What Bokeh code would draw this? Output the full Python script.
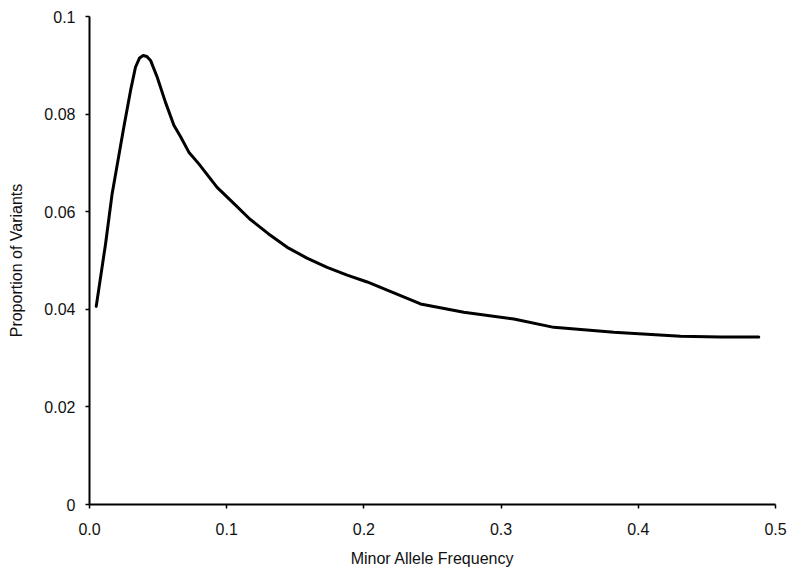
from bokeh.plotting import figure
from bokeh.models import Range1d, FixedTicker
from bokeh.embed import file_html
from bokeh.resources import INLINE

# Minor allele frequency (x) and proportion of variants (y)
maf = [0.0049, 0.0117, 0.0165, 0.0197, 0.025, 0.0299, 0.0335, 0.0365, 0.0391, 0.0418,
       0.0445, 0.0493, 0.0554, 0.0615, 0.0665, 0.0724, 0.0797, 0.093, 0.1055, 0.1168,
       0.1303, 0.1441, 0.1585, 0.1732, 0.1878, 0.2024, 0.2121, 0.2267, 0.2413, 0.2728,
       0.3093, 0.3384, 0.3822, 0.4308, 0.4600, 0.4878]
proportion = [0.0406, 0.0534, 0.0637, 0.0688, 0.0773, 0.0848, 0.0896, 0.0915, 0.0920, 0.0918,
              0.0910, 0.0876, 0.0824, 0.0777, 0.0753, 0.0722, 0.0698, 0.0650, 0.0616, 0.0585,
              0.0555, 0.0527, 0.0505, 0.0486, 0.0470, 0.0456, 0.0445, 0.0428, 0.0411, 0.0394,
              0.0380, 0.0363, 0.0353, 0.0345, 0.0343, 0.0343]

x_ticks = [0.0, 0.1, 0.2, 0.3, 0.4, 0.5]
x_tick_labels = ["0.0", "0.1", "0.2", "0.3", "0.4", "0.5"]
y_ticks = [0.0, 0.02, 0.04, 0.06, 0.08, 0.1]
y_tick_labels = ["0", "0.02", "0.04", "0.06", "0.08", "0.1"]

FONT = "Liberation Sans"

p = figure(width=791, height=567, output_backend="svg", toolbar_location=None,
           x_range=Range1d(0, 0.5), y_range=Range1d(0, 0.1),
           min_border_left=89, min_border_right=16, min_border_top=16, min_border_bottom=63)
p.frame_width = 686
p.frame_height = 488

p.line(maf, proportion, line_color="black", line_width=3, line_join="round", line_cap="round")

p.xgrid.visible = False
p.ygrid.visible = False
p.outline_line_color = None
p.background_fill_color = "white"
p.border_fill_color = "white"

for ax, ticks, labels in ((p.xaxis[0], x_ticks, x_tick_labels), (p.yaxis[0], y_ticks, y_tick_labels)):
    ax.ticker = FixedTicker(ticks=ticks)
    ax.major_label_overrides = {t: l for t, l in zip(ticks, labels)}
    ax.axis_line_color = "black"
    ax.axis_line_width = 2
    ax.major_tick_line_color = "black"
    ax.major_tick_line_width = 1.5
    ax.major_tick_in = 0
    ax.major_tick_out = 4
    ax.minor_tick_line_color = None
    ax.major_label_text_font = FONT
    ax.major_label_text_font_size = "16px"
    ax.major_label_text_color = "#111111"
    ax.axis_label_text_font = FONT
    ax.axis_label_text_font_size = "16px"
    ax.axis_label_text_font_style = "normal"
    ax.axis_label_text_color = "#111111"

p.xaxis[0].axis_label = "Minor Allele Frequency"
p.yaxis[0].axis_label = "Proportion of Variants"
p.xaxis[0].major_label_standoff = 14
p.xaxis[0].axis_label_standoff = 12
p.yaxis[0].major_label_standoff = 10
p.yaxis[0].axis_label_standoff = 16

open("out.html", "w").write(file_html(p, INLINE))
